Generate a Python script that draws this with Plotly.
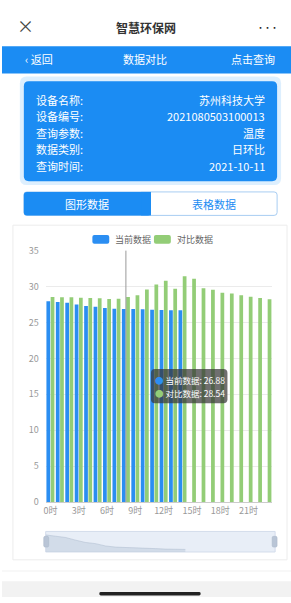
import plotly.graph_objects as go

W, H = 291, 603
FONT = "Noto Sans CJK SC"

# ---------------- data ----------------
hours = ["0时", "1时", "2时", "3时", "4时", "5时", "6时", "7时", "8时", "9时", "10时", "11时",
         "12时", "13时", "14时", "15时", "16时", "17时", "18时", "19时", "20时", "21时", "22时", "23时"]
current = [27.95, 27.86, 27.73, 27.5, 27.3, 27.2, 27.0, 26.9, 26.88, 26.86, 26.85, 26.77,
           26.73, 26.7, 26.7]
compare = [28.56, 28.5, 28.5, 28.45, 28.4, 28.36, 28.27, 28.3, 28.54, 28.8, 29.6, 30.3,
           30.8, 29.7, 31.45, 31.1, 29.77, 29.55, 29.13, 29.05, 28.8, 28.58, 28.4, 28.23]
tick_labels = ["0时", "3时", "6时", "9时", "12时", "15时", "18时", "21时"]
y_ticks = [0, 5, 10, 15, 20, 25, 30, 35]
series_names = ["当前数据", "对比数据"]
info_labels = ["设备名称:", "设备编号:", "查询参数:", "数据类别:", "查询时间:"]
info_values = ["苏州科技大学", "2021080503100013", "温度", "日环比", "2021-10-11"]
tooltip_index = 8

BLUE = "#2b8ef2"
GREEN = "#93cd77"
HEAD = "#1b8cf3"


def px(x):
    return x / W


def py(y):
    return 1 - y / H


def rrect(x0, y0, x1, y1, r, fill, line=None, lw=0, layer="below", opacity=1):
    X = lambda v: f"{px(v):.5f}"
    Y = lambda v: f"{py(v):.5f}"
    p = (f"M {X(x0 + r)},{Y(y0)} L {X(x1 - r)},{Y(y0)} Q {X(x1)},{Y(y0)} {X(x1)},{Y(y0 + r)} "
         f"L {X(x1)},{Y(y1 - r)} Q {X(x1)},{Y(y1)} {X(x1 - r)},{Y(y1)} "
         f"L {X(x0 + r)},{Y(y1)} Q {X(x0)},{Y(y1)} {X(x0)},{Y(y1 - r)} "
         f"L {X(x0)},{Y(y0 + r)} Q {X(x0)},{Y(y0)} {X(x0 + r)},{Y(y0)} Z")
    return dict(type="path", xref="paper", yref="paper", path=p, fillcolor=fill,
                line=dict(color=line or "rgba(0,0,0,0)", width=lw), layer=layer, opacity=opacity)


def rect(x0, y0, x1, y1, fill, line=None, lw=0, layer="below"):
    return dict(type="rect", xref="paper", yref="paper", x0=px(x0), x1=px(x1), y0=py(y1), y1=py(y0),
                fillcolor=fill, line=dict(color=line or "rgba(0,0,0,0)", width=lw), layer=layer)


def text(x, y, s, size=11, color="#333", xanchor="center", bold=False):
    if bold:
        s = f"<b>{s}</b>"
    return dict(xref="paper", yref="paper", x=px(x), y=py(y), text=s, showarrow=False,
                xanchor=xanchor, yanchor="middle", font=dict(family=FONT, size=size, color=color))


fig = go.Figure()

x_cur = list(range(len(current)))
x_cmp = list(range(len(compare)))

fig.add_trace(go.Bar(x=x_cur, y=current, name=series_names[0], marker=dict(color=BLUE, line_width=0),
                     xaxis="x", yaxis="y"))
fig.add_trace(go.Bar(x=x_cmp, y=compare, name=series_names[1], marker=dict(color=GREEN, line_width=0),
                     xaxis="x", yaxis="y"))

# data-zoom shadow (from the current series)
fig.add_trace(go.Scatter(x=x_cur, y=current, mode="lines", line=dict(width=0.8, color="rgba(170,185,205,0.6)"),
                         fill="tozeroy", fillcolor="rgba(185,198,216,0.45)", xaxis="x2", yaxis="y2",
                         hoverinfo="skip"))

shapes = []
annotations = []

# top white nav bar
shapes.append(rect(0, 0, W, 40, "#ffffff"))
annotations.append(text(24, 19, "×", size=17, color="#444"))
annotations.append(text(145, 21, "智慧环保网", size=12, color="#333", bold=True))
annotations.append(text(267, 20, "<b>•••</b>", size=7, color="#222"))

# blue header
shapes.append(rect(0, 40, W, 68, HEAD))
annotations.append(text(21, 53, "‹ 返回", size=11, color="#ffffff", xanchor="left"))
annotations.append(text(144, 53, "数据对比", size=11, color="#ffffff"))
annotations.append(text(277, 53, "点击查询", size=11, color="#ffffff", xanchor="right"))

# info card with glow
shapes.append(rrect(18, 71, 281, 182, 7, "rgba(120,190,250,0.25)"))
shapes.append(rrect(22, 76, 277, 178, 5, HEAD))
for i, (lab, val) in enumerate(zip(info_labels, info_values)):
    yy = 95 + i * 16.8
    annotations.append(text(32, yy, lab, size=11, color="#ffffff", xanchor="left"))
    annotations.append(text(267, yy, val, size=11, color="#ffffff", xanchor="right"))

# tabs
shapes.append(rrect(22, 189, 277, 213, 3, "#ffffff", line="#a8cdf2", lw=1))
shapes.append(rrect(22, 189, 150, 213, 3, HEAD))
shapes.append(rect(140, 189, 150, 213, HEAD))
annotations.append(text(86, 201, "图形数据", size=11, color="#ffffff"))
annotations.append(text(213, 201, "表格数据", size=11, color=HEAD))

# chart card
shapes.append(rect(11, 223, 287, 565, "#ffffff", line="#ececec", lw=1))

# legend
shapes.append(rrect(91, 233, 108, 242, 2, BLUE))
annotations.append(text(112, 237.5, series_names[0], size=9, color="#666", xanchor="left"))
shapes.append(rrect(153, 233, 170, 242, 2, GREEN))
annotations.append(text(174, 237.5, series_names[1], size=9, color="#666", xanchor="left"))

# axis pointer line
shapes.append(dict(type="line", xref="x", yref="paper", x0=tooltip_index, x1=tooltip_index,
                   y0=py(506), y1=py(249), line=dict(color="#9a9a9a", width=1), layer="above"))

# tooltip
shapes.append(rrect(150, 370, 227, 405, 4, "rgba(55,55,55,0.72)", layer="above"))
annotations.append(dict(xref="paper", yref="paper", x=px(152), y=py(381.5), xanchor="left", yanchor="middle",
                        showarrow=False, font=dict(family=FONT, size=8.5, color="#ffffff"),
                        text=f"<span style='color:{BLUE}'>●</span> {series_names[0]}: {current[tooltip_index]:.2f}"))
annotations.append(dict(xref="paper", yref="paper", x=px(152), y=py(394.5), xanchor="left", yanchor="middle",
                        showarrow=False, font=dict(family=FONT, size=8.5, color="#ffffff"),
                        text=f"<span style='color:{GREEN}'>●</span> {series_names[1]}: {compare[tooltip_index]:.2f}"))

# data zoom slider
shapes.append(rect(44, 536, 275, 557, "#e8eef7", line="#d3dceb", lw=1))
shapes.append(rrect(42, 541, 47, 552, 1.5, "#b9c5d6", line="#a9b6c9", lw=0.5, layer="above"))
shapes.append(rrect(272, 541, 277, 552, 1.5, "#b9c5d6", line="#a9b6c9", lw=0.5, layer="above"))

# bottom bar
shapes.append(rect(0, 576, W, 577, "#f1f1f1"))
shapes.append(rect(0, 587, W, H, "#f2f2f2"))
shapes.append(rrect(98, 598, 200, 601.5, 1.5, "#222222", layer="above"))

fig.update_layout(
    width=W, height=H, margin=dict(l=0, r=0, t=0, b=0),
    paper_bgcolor="#ffffff", plot_bgcolor="rgba(0,0,0,0)",
    showlegend=False, barmode="group", bargap=0.1, bargroupgap=0.12,
    font=dict(family=FONT),
    xaxis=dict(domain=[px(44), px(272)], range=[-0.5, 23.5], tickmode="array",
               tickvals=[hours.index(t) for t in tick_labels], ticktext=tick_labels,
               showgrid=False, showline=True, linecolor="#cccccc", linewidth=1, ticks="",
               tickfont=dict(family=FONT, size=9, color="#999999"), anchor="y", fixedrange=True),
    yaxis=dict(domain=[py(506), py(249)], range=[0, 35], tickvals=y_ticks, showgrid=True,
               gridcolor="#ebebeb", gridwidth=1, zeroline=False, showline=False, ticks="",
               tickfont=dict(family=FONT, size=9, color="#999999"), ticklabelstandoff=6,
               anchor="x", fixedrange=True),
    xaxis2=dict(domain=[px(44), px(275)], range=[0, 23], visible=False, anchor="y2", fixedrange=True),
    yaxis2=dict(domain=[py(557), py(536)], range=[26.48, 28.25], visible=False, anchor="x2", fixedrange=True),
    shapes=shapes, annotations=annotations,
)

fig.write_html("out.html", config={"displayModeBar": False},
               post_script="document.body.style.margin='0';document.body.style.padding='0';"
                           "document.body.style.overflow='hidden';")
